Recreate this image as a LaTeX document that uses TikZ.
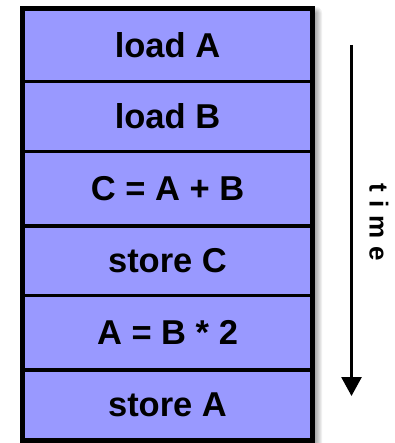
\documentclass[tikz,border=0pt]{standalone}
\usepackage{fontspec}
\setmainfont{Liberation Sans}
\usetikzlibrary{arrows.meta}
\definecolor{rowfill}{HTML}{9999FF}
\tikzset{
  rowbox/.style={draw=black, fill=rowfill, line width=3.2pt, minimum width=287.5pt,
    inner sep=0pt, font=\fontsize{34.5}{40}\selectfont\bfseries, text=black},
  timearrow/.style={line width=2.8pt, -{Triangle[length=19pt,width=20pt]}},
}
\begin{document}
\begin{tikzpicture}[x=1pt,y=-1pt]
\useasboundingbox (0,0) rectangle (394,443);
% soft shadow
\foreach \r in {0,1,...,6}{
  \fill[black, opacity=0.055, rounded corners=\r pt] (28-\r,13-\r) rectangle (316+\r,446+\r);
}
\node[rowbox, minimum height=72.5pt] (r1) at (167.5,45.25) {load A};
\node[rowbox, minimum height=70pt]   (r2) at (167.5,116.5) {load B};
\node[rowbox, minimum height=74.5pt] (r3) at (167.5,188.75) {C = A + B};
\node[rowbox, minimum height=69.5pt] (r4) at (167.5,260.75) {store C};
\node[rowbox, minimum height=74.5pt] (r5) at (167.5,332.75) {A = B * 2};
\node[rowbox, minimum height=70pt]   (r6) at (167.5,405) {store A};
\draw[line width=3.6pt] (r1.north west) rectangle (r6.south east);
\coordinate (ts) at (351.5,45);
\coordinate (te) at (351.5,396);
\draw[timearrow] (ts) -- (te);
\node[rotate=-90, font=\fontsize{26}{30}\selectfont\bfseries, inner sep=0pt] (tm) at (379,222.5)
  {t\hspace{8pt}i\hspace{8pt}m\hspace{8pt}e};
\end{tikzpicture}
\end{document}
